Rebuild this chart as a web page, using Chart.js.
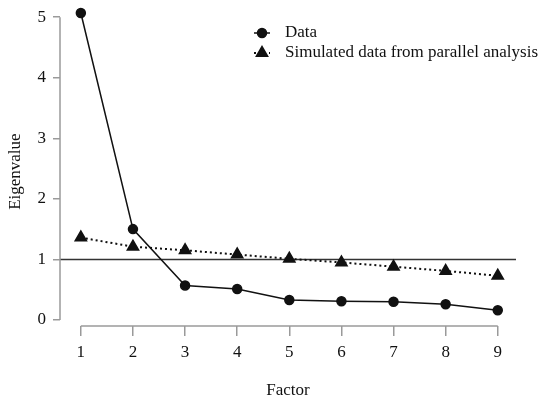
<!DOCTYPE html>
<html>
<head>
<meta charset="utf-8">
<script src="https://cdn.jsdelivr.net/npm/chart.js@4/dist/chart.umd.min.js"></script>
<style>
  html, body { margin: 0; padding: 0; background: #fff; }
  #wrap { width: 550px; height: 405px; }
</style>
</head>
<body>
<div id="wrap"><canvas id="scree"></canvas></div>
<script>
// values
var factors = [1, 2, 3, 4, 5, 6, 7, 8, 9];
var observed = [5.07, 1.50, 0.57, 0.51, 0.33, 0.31, 0.30, 0.26, 0.16];
var simulated = [1.36, 1.21, 1.15, 1.08, 1.01, 0.95, 0.88, 0.81, 0.73];
var yTicks = [0, 1, 2, 3, 4, 5];
var cutoff = 1;

var serif = "'Liberation Serif', 'Times New Roman', serif";
var axisGrey = "#9a9a9a";
var ink = "#111";

var xMin = 0.6, xMax = 9.35;

function toPoints(vals) {
  return factors.map(function (f, i) { return { x: f, y: vals[i] }; });
}

// axis lines only span the tick range, and the legend shows line + marker
var screeDecor = {
  id: "screeDecor",
  afterDraw: function (chart) {
    var ctx = chart.ctx;
    var xs = chart.scales.x, ys = chart.scales.y;
    var area = chart.chartArea;
    ctx.save();
    ctx.strokeStyle = axisGrey;
    ctx.lineWidth = 1.5;
    ctx.beginPath();
    ctx.moveTo(area.left, ys.getPixelForValue(yTicks[0]));
    ctx.lineTo(area.left, ys.getPixelForValue(yTicks[yTicks.length - 1]));
    ctx.moveTo(xs.getPixelForValue(factors[0]), area.bottom);
    ctx.lineTo(xs.getPixelForValue(factors[factors.length - 1]), area.bottom);
    ctx.stroke();

    // legend
    var lx = 262, ly = 33, gap = 20;
    chart.data.datasets.forEach(function (ds, i) {
      if (!ds.label) return;
      var y = ly + i * gap;
      ctx.strokeStyle = ds.borderColor;
      ctx.lineWidth = ds.borderWidth;
      ctx.setLineDash(ds.borderDash || []);
      ctx.beginPath();
      ctx.moveTo(lx - 8, y);
      ctx.lineTo(lx + 8, y);
      ctx.stroke();
      ctx.setLineDash([]);
      ctx.fillStyle = ds.pointBackgroundColor;
      ctx.strokeStyle = ds.pointBackgroundColor;
      Chart.helpers.drawPoint(ctx, {
        pointStyle: ds.pointStyle,
        radius: ds.pointRadius,
        borderWidth: 1
      }, lx, y);
      ctx.fillStyle = ink;
      ctx.font = "17px " + serif;
      ctx.textBaseline = "middle";
      ctx.textAlign = "left";
      ctx.fillText(ds.label, lx + 23, y);
    });
    ctx.restore();
  }
};

new Chart(document.getElementById("scree"), {
  type: "line",
  data: {
    datasets: [
      {
        label: "Data",
        data: toPoints(observed),
        borderColor: ink,
        borderWidth: 1.5,
        pointStyle: "circle",
        pointRadius: 4.5,
        pointBackgroundColor: ink,
        pointBorderColor: ink,
        tension: 0,
        clip: false
      },
      {
        label: "Simulated data from parallel analysis",
        data: toPoints(simulated),
        borderColor: ink,
        borderWidth: 2,
        borderDash: [2, 3],
        pointStyle: "triangle",
        pointRadius: 6,
        pointBackgroundColor: ink,
        pointBorderColor: ink,
        tension: 0,
        clip: false
      },
      {
        label: "",
        data: [{ x: xMin, y: cutoff }, { x: xMax, y: cutoff }],
        borderColor: "#333",
        borderWidth: 1.5,
        pointRadius: 0
      }
    ]
  },
  options: {
    responsive: true,
    maintainAspectRatio: false,
    animation: false,
    layout: { padding: { top: 0, right: 34, left: 0, bottom: 0 } },
    plugins: {
      legend: { display: false },
      tooltip: { enabled: false }
    },
    scales: {
      x: {
        type: "linear",
        min: xMin,
        max: xMax,
        afterBuildTicks: function (s) { s.ticks = factors.map(function (v) { return { value: v }; }); },
        afterFit: function (s) { s.height = 79; },
        grid: { drawOnChartArea: false, tickLength: 10, color: axisGrey, lineWidth: 1.5 },
        border: { display: false },
        ticks: { color: ink, padding: 6, font: { family: serif, size: 17 } },
        title: {
          display: true,
          text: "Factor",
          color: ink,
          font: { family: serif, size: 17 },
          padding: { top: 0, bottom: 4 }
        }
      },
      y: {
        min: -0.1,
        max: 5.0,
        afterBuildTicks: function (s) { s.ticks = yTicks.map(function (v) { return { value: v }; }); },
        afterFit: function (s) { s.width = 60; },
        grid: { drawOnChartArea: false, tickLength: 7, color: axisGrey, lineWidth: 1.5 },
        border: { display: false },
        ticks: { color: ink, padding: 7, font: { family: serif, size: 17 } },
        title: {
          display: true,
          text: "Eigenvalue",
          color: ink,
          font: { family: serif, size: 17 },
          padding: { top: 5, bottom: 0 }
        }
      }
    }
  },
  plugins: [screeDecor]
});
</script>
</body>
</html>
